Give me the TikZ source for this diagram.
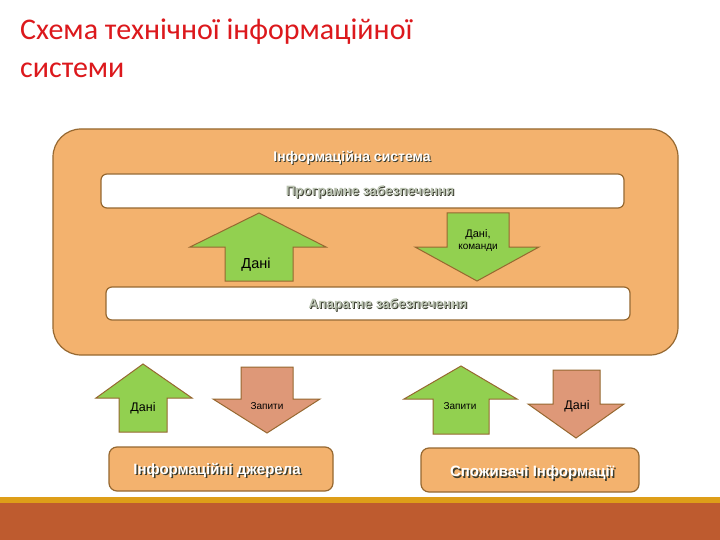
\documentclass[tikz,border=0pt]{standalone}
\usepackage{fontspec}
\setmainfont{Carlito}
\newfontfamily\arialf{Liberation Sans}
\definecolor{titlered}{RGB}{220,24,28}
\definecolor{orfill}{RGB}{243,178,110}
\definecolor{brd}{RGB}{150,104,48}
\definecolor{grn}{RGB}{146,208,80}
\definecolor{salm}{RGB}{222,152,120}
\definecolor{gold}{RGB}{222,158,24}
\definecolor{band}{RGB}{190,91,47}
\definecolor{emb}{RGB}{185,194,176}
\definecolor{shd}{RGB}{60,62,48}
\begin{document}
\begin{tikzpicture}[x=1pt,y=-1pt,
  outerbox/.style={draw=brd,fill=orfill,line width=1.2pt,rounded corners=28pt,inner sep=0pt},
  whitebox/.style={draw=brd,fill=white,line width=1.2pt,rounded corners=6pt,inner sep=0pt},
  srcbox/.style={draw=brd,fill=orfill,line width=1.2pt,rounded corners=8pt,inner sep=0pt},
  garrow/.style={draw=brd,fill=grn,line width=1pt,line join=miter},
  sarrow/.style={draw=brd,fill=salm,line width=1pt,line join=miter},
  wlabel/.style={text=white,font=\arialf\bfseries\fontsize{14}{16}\selectfont,inner sep=0pt},
  wshadow/.style={text=shd,font=\arialf\bfseries\fontsize{14}{16}\selectfont,inner sep=0pt},
  elabel/.style={text=emb,font=\arialf\bfseries\fontsize{13.5}{15}\selectfont,inner sep=0pt},
  eshadow/.style={text=shd,font=\arialf\bfseries\fontsize{13.5}{15}\selectfont,inner sep=0pt},
  alabel/.style={text=black,font=\arialf\fontsize{11}{13}\selectfont,inner sep=0pt,align=center}
]
\useasboundingbox (0,0) rectangle (720,540);
\fill[white] (0,0) rectangle (720,540);
\fill[gold] (0,497) rectangle (720,503);
\fill[band] (0,503) rectangle (720,540);

% title
\node[anchor=base west,text=titlered,font=\fontsize{30}{36}\selectfont,inner sep=0pt] (t1) at (20,40) {Схема технічної інформаційної};
\node[anchor=base west,text=titlered,font=\fontsize{30}{36}\selectfont,inner sep=0pt] (t2) at (20,78) {системи};

% information system
\node[outerbox,minimum width=625pt,minimum height=226pt] (is) at (365.5,242) {};
\node[wshadow] (islabs) at (353,159) {Інформаційна система};
\node[wlabel] (islab) at (352,158) {Інформаційна система};

\node[whitebox,minimum width=523pt,minimum height=34pt] (prog) at (362.5,191) {};
\node[eshadow] (progls) at (371,193) {Програмне забезпечення};
\node[elabel] (progl) at (370,192) {Програмне забезпечення};

\node[whitebox,minimum width=524pt,minimum height=33pt] (app) at (368,303.5) {};
\node[eshadow] (appls) at (389,306) {Апаратне забезпечення};
\node[elabel] (appl) at (388,305) {Апаратне забезпечення};

% internal arrows
\draw[garrow] (259,213) -- (326,247) -- (293,247) -- (293,281) -- (225,281) -- (225,247) -- (190,247) -- cycle;
\node[alabel,font=\arialf\fontsize{14.5}{16}\selectfont] (d1) at (256,265) {Дані};
\draw[garrow] (447,213) -- (509,213) -- (509,247) -- (539,247) -- (477,281) -- (415,247) -- (447,247) -- cycle;
\node[alabel] (d2) at (478,241) {Дані,\\[-1pt]{\fontsize{10}{12}\selectfont команди}};

% lower arrows
\draw[garrow] (143,364) -- (192,398) -- (167,398) -- (167,432) -- (119,432) -- (119,398) -- (96,398) -- cycle;
\node[alabel,font=\arialf\fontsize{12.5}{14}\selectfont] (d3) at (143,408) {Дані};
\draw[sarrow] (241,367) -- (293,367) -- (293,399) -- (320,399) -- (267,433) -- (213,399) -- (241,399) -- cycle;
\node[alabel,font=\arialf\fontsize{10}{12}\selectfont] (z1) at (267,406) {Запити};

\draw[garrow] (461,366) -- (517,399) -- (489,399) -- (489,434) -- (433,434) -- (433,399) -- (404,399) -- cycle;
\node[alabel,font=\arialf\fontsize{10}{12}\selectfont] (z2) at (460,406) {Запити};
\draw[sarrow] (553,370) -- (600,370) -- (600,404) -- (624,404) -- (576,438) -- (528,404) -- (553,404) -- cycle;
\node[alabel,font=\arialf\fontsize{12.5}{14}\selectfont] (d4) at (577,406) {Дані};

% sources and consumers
\node[srcbox,minimum width=224pt,minimum height=44pt] (src) at (221,469) {};
\node[wshadow,font=\arialf\bfseries\fontsize{15}{17}\selectfont] (srcls) at (218.5,471.5) {Інформаційні джерела};
\node[wlabel,font=\arialf\bfseries\fontsize{15}{17}\selectfont] (srcl) at (217,470) {Інформаційні джерела};

\node[srcbox,minimum width=218pt,minimum height=44pt] (cons) at (530,470) {};
\node[wshadow,font=\arialf\bfseries\fontsize{15}{17}\selectfont] (consls) at (533.5,474.5) {Споживачі Інформації};
\node[wlabel,font=\arialf\bfseries\fontsize{15}{17}\selectfont] (consl) at (532,473) {Споживачі Інформації};
\end{tikzpicture}
\end{document}
